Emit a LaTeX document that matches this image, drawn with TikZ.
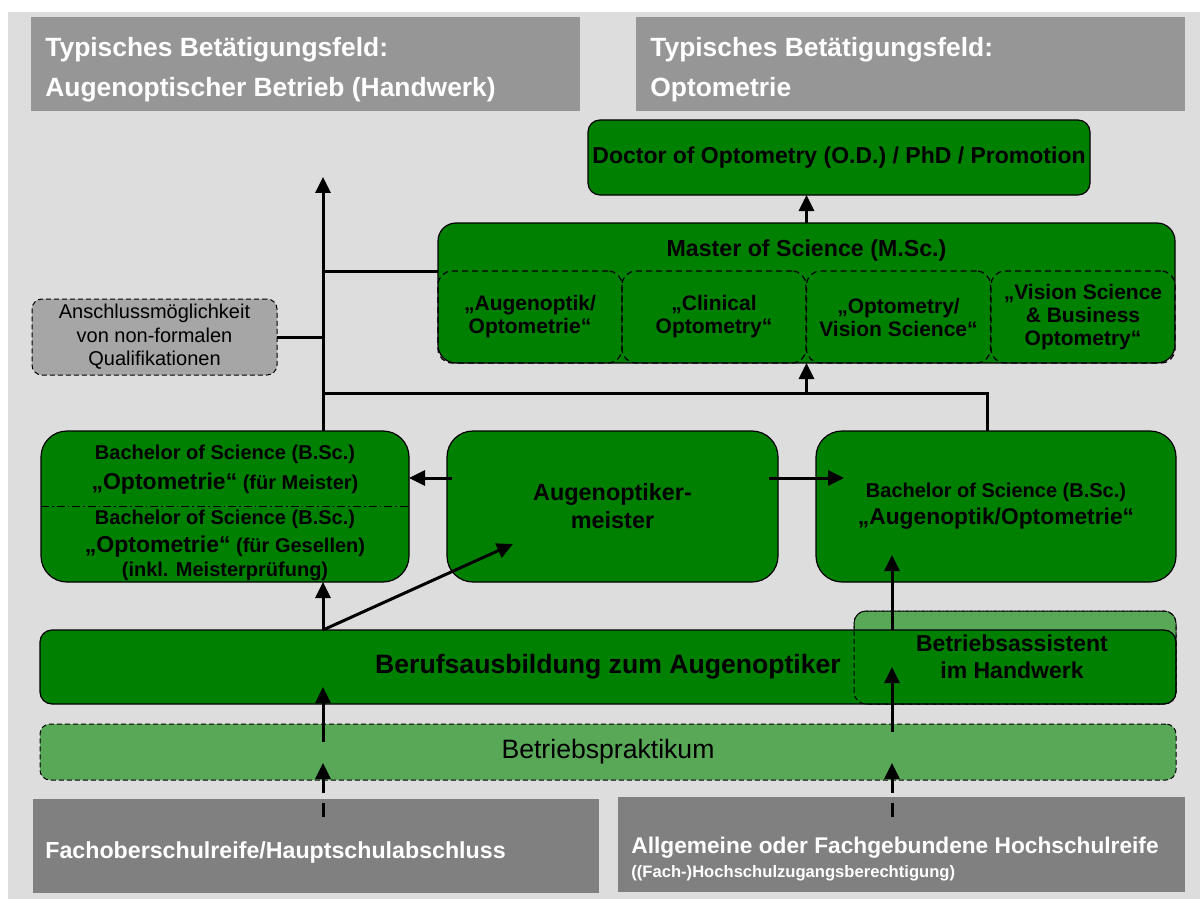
\documentclass[tikz,border=0pt]{standalone}
\usepackage{fontspec}
\setmainfont{Liberation Sans}
\usetikzlibrary{arrows.meta}

\definecolor{bggray}{RGB}{221,221,221}
\definecolor{hdgray}{RGB}{150,150,150}
\definecolor{ftgray}{RGB}{128,128,128}
\definecolor{dkgreen}{RGB}{0,128,0}
\definecolor{ltgreen}{RGB}{88,168,88}
\definecolor{nfgray}{RGB}{166,166,166}

\tikzset{
  x=0.5pt, y=-0.5pt,
  greenbox/.style={draw=black, line width=0.6pt, fill=dkgreen, inner sep=0pt, outer sep=0pt, align=center, font=\bfseries},
  graybox/.style={fill=hdgray, inner sep=0pt, outer sep=0pt},
  footbox/.style={fill=ftgray, inner sep=0pt, outer sep=0pt},
  softbox/.style={draw=black, line width=0.5pt, dash pattern=on 2.5pt off 1.5pt, inner sep=0pt, outer sep=0pt, align=center},
  subbox/.style={draw=black, line width=0.6pt, dash pattern=on 3pt off 2pt, rounded corners=7pt, inner sep=0pt, outer sep=0pt, align=center,
    font=\fontsize{10.5}{11.5}\selectfont\bfseries, minimum width=92pt, minimum height=46pt},
  conn/.style={line width=1.5pt},
  arr/.style={conn, -{Triangle[length=8pt,width=7.5pt]}},
  darr/.style={arr, dash pattern=on 7pt off 5pt},
  whitetext/.style={text=white, anchor=base west, inner sep=0pt, align=left},
}

\begin{document}
\begin{tikzpicture}
  \useasboundingbox (0,0) rectangle (1200,899);
  \fill[white] (0,0) rectangle (1200,899);
  \fill[bggray] (8,12) rectangle (1200,899);

  % fields of work
  \node[graybox, minimum width=274.5pt, minimum height=47pt] (hdrL) at (305.5,64) {};
  \node[whitetext, font=\fontsize{13.2}{20}\selectfont\bfseries] (hdrLtext) at (45,97) {Typisches Betätigungsfeld:\\Augenoptischer Betrieb (Handwerk)};
  \node[graybox, minimum width=274.5pt, minimum height=47pt] (hdrR) at (910.5,64) {};
  \node[whitetext, font=\fontsize{13.2}{20}\selectfont\bfseries] (hdrRtext) at (650,97) {Typisches Betätigungsfeld:\\Optometrie};

  % degrees
  \node[greenbox, rounded corners=6pt, minimum width=251pt, minimum height=37.5pt, font=\fontsize{11.5}{13}\selectfont\bfseries] (doctor) at (839,157.5) {Doctor of Optometry (O.D.) / PhD / Promotion};

  \node[greenbox, rounded corners=9pt, minimum width=368.5pt, minimum height=70pt] (master) at (806.5,293) {};
  \node[font=\fontsize{11.6}{13}\selectfont\bfseries, inner sep=0pt] (mtitle) at (806.5,251) {Master of Science (M.Sc.)};
  \node[subbox] (opt1) at (530,317) {„Augenoptik/\\Optometrie“};
  \node[subbox] (opt2) at (714,317) {„Clinical\\Optometry“};
  \node[subbox] (opt3) at (898.5,317) {„Optometry/\\Vision Science“};
  \node[subbox] (opt4) at (1083,317) {„Vision Science\\\& Business\\Optometry“};

  \node[softbox, fill=nfgray, rounded corners=5pt, minimum width=122.5pt, minimum height=38pt, font=\fontsize{10}{11.75}\selectfont] (nonformal) at (154.5,337) {Anschlussmöglichkeit\\von non-formalen\\Qualifikationen};

  \node[greenbox, rounded corners=13pt, minimum width=184pt, minimum height=75.5pt] (bscL) at (225,506.5) {};
  \draw[line width=0.6pt, dash pattern=on 4pt off 1.5pt on 0.8pt off 1.5pt] (bscL.west) -- (bscL.east);
  \node[align=center, inner sep=0pt, font=\fontsize{10}{12}\selectfont\bfseries] (bscLtext) at (225,513)
    {Bachelor of Science (B.Sc.)\\[3pt]{\fontsize{11.5}{12}\selectfont „Optometrie“} (für Meister)\\[5.5pt]Bachelor of Science (B.Sc.)\\[2pt]{\fontsize{11.5}{12}\selectfont „Optometrie“} (für Gesellen)\\(inkl. Meisterprüfung)};

  \node[greenbox, rounded corners=13pt, minimum width=165.5pt, minimum height=75.5pt, font=\fontsize{11.7}{14}\selectfont\bfseries] (meister) at (612.5,506.5) {Augenoptiker-\\meister};

  \node[greenbox, rounded corners=13pt, minimum width=180pt, minimum height=75.5pt, font=\fontsize{10}{13.5}\selectfont\bfseries] (bscR) at (996,506.5)
    {Bachelor of Science (B.Sc.)\\{\fontsize{11.4}{13.5}\selectfont „Augenoptik/Optometrie“}};

  % training
  \node[softbox, fill=ltgreen, rounded corners=6pt, minimum width=161pt, minimum height=46.5pt] (assist) at (1015,657.5) {};
  \node[greenbox, rounded corners=6pt, minimum width=568pt, minimum height=37pt, font=\fontsize{13.3}{15}\selectfont\bfseries] (beruf) at (608,667) {Berufsausbildung zum Augenoptiker};
  \draw[line width=0.5pt, dash pattern=on 2.5pt off 1.5pt, rounded corners=6pt] (assist.south west) rectangle (assist.north east);
  \node[font=\fontsize{11.5}{13.5}\selectfont\bfseries, align=center, inner sep=0pt] (assisttext) at (1012,657) {Betriebsassistent\\im Handwerk};

  \node[softbox, fill=ltgreen, rounded corners=5pt, minimum width=568pt, minimum height=28pt, font=\fontsize{13.3}{15}\selectfont] (praktikum) at (608,752) {Betriebspraktikum};

  % school leaving
  \node[footbox, minimum width=283pt, minimum height=47pt] (schoolL) at (316,846) {};
  \node[whitetext, font=\fontsize{11.6}{14}\selectfont\bfseries] (schoolLtext) at (45,858) {Fachoberschulreife/Hauptschulabschluss};
  \node[footbox, minimum width=283.5pt, minimum height=47.5pt] (schoolR) at (901.5,844.5) {};
  \node[whitetext, font=\fontsize{11.35}{14}\selectfont\bfseries] (schoolRtext) at (631,853) {Allgemeine oder Fachgebundene Hochschulreife};
  \node[whitetext, font=\fontsize{8.3}{10}\selectfont\bfseries] (schoolRsub) at (631,877) {((Fach-)Hochschulzugangsberechtigung)};

  % connectors
  \coordinate (topend) at (323,177);
  \coordinate (split) at (323,393);
  \coordinate (rcol) at (892,630);

  \draw[arr] (topend |- bscL.north) -- (topend);
  \draw[conn] (topend |- opt1.north west) -- (opt1.north west);
  \draw[conn] (nonformal.east) -- (nonformal.east -| topend);
  \draw[conn] (split) -| ([xshift=-4.5pt]bscR.north);
  \draw[arr] (master.south |- split) -- (master.south);
  \draw[arr] (master.north) -- (master.north |- doctor.south);
  \draw[arr] ([shift={(2.5pt,14.25pt)}]meister.west) -- ([yshift=14.25pt]bscL.east);
  \draw[arr] ([shift={(-4.5pt,14.25pt)}]meister.east) -- ([shift={(14pt,14.25pt)}]bscR.west);
  \draw[arr] (topend |- beruf.north) -- ([shift={(-49.75pt,-18.75pt)}]meister.center);
  \draw[arr] (topend |- beruf.north) -- (topend |- bscL.south);
  \draw[arr] (rcol |- beruf.north) -- ([yshift=13.5pt]bscR.south -| rcol);
  \draw[arr] ([yshift=-4pt]praktikum.north -| rcol) -- (rcol |- beruf.center);
  \draw[arr] ([yshift=-9pt]praktikum.north -| topend) -- ([yshift=-10pt]beruf.center -| topend);
  \draw[darr] ([yshift=-9pt]schoolL.north -| topend) -- ([yshift=-5.5pt]praktikum.center -| topend);
  \draw[darr] ([yshift=-10pt]schoolR.north -| rcol) -- ([yshift=-5.5pt]praktikum.center -| rcol);
\end{tikzpicture}
\end{document}
